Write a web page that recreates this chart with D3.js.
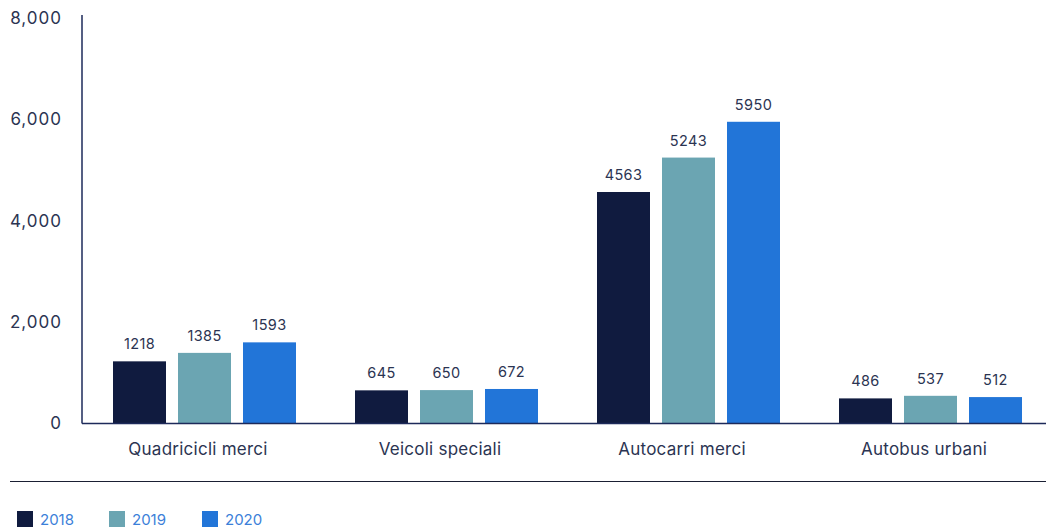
<!DOCTYPE html>
<html>
<head>
<meta charset="utf-8">
<script src="https://cdn.jsdelivr.net/npm/d3@7/dist/d3.min.js"></script>
<style>
  html, body { margin: 0; padding: 0; background: #ffffff; }
  svg { display: block; font-family: Inter, "Noto Sans", sans-serif; }
</style>
</head>
<body>
<svg id="chart" width="1046" height="529"></svg>
<script>
// Vehicle categories and yearly counts
const categories = ["Quadricicli merci", "Veicoli speciali", "Autocarri merci", "Autobus urbani"];
const years = ["2018", "2019", "2020"];
const values2018 = [1218, 645, 4563, 486];
const values2019 = [1385, 650, 5243, 537];
const values2020 = [1593, 672, 5950, 512];
const yTicks = [0, 2000, 4000, 6000, 8000];
const colors = ["#101b3f", "#6ba5b2", "#2275d8"];

const series = [values2018, values2019, values2020];
const rows = categories.map((c, i) => ({
  category: c,
  values: years.map((y, j) => ({ year: y, value: series[j][i], idx: j }))
}));

const svg = d3.select("#chart");
const axisX = 82;
const plotRight = 1051.5;
const baseY = 423;
const topY = 18;

const x0 = d3.scaleBand().domain(categories).range([83.5, plotRight]);
const y = d3.scaleLinear().domain([0, 8000]).range([baseY, topY]);
const color = d3.scaleOrdinal().domain(years).range(colors);

const textColor = "#2b3452";

// y tick labels
svg.append("g")
  .selectAll("text")
  .data(yTicks)
  .join("text")
  .attr("x", 62)
  .attr("y", d => y(d))
  .attr("dy", "0.36em")
  .attr("text-anchor", "end")
  .attr("font-size", 17)
  .attr("letter-spacing", 1)
  .attr("fill", textColor)
  .text(d => d3.format(",")(d));

// bars, grouped by category
const bw = 53;
const stepIn = 65;
const groupW = stepIn * 2 + bw;
const groups = svg.append("g")
  .selectAll("g")
  .data(rows)
  .join("g")
  .attr("transform", d => `translate(${x0(d.category) + (x0.bandwidth() - groupW) / 2},0)`);

groups.selectAll("rect")
  .data(d => d.values)
  .join("rect")
  .attr("x", d => d.idx * stepIn)
  .attr("width", bw)
  .attr("y", d => y(d.value))
  .attr("height", d => baseY - y(d.value))
  .attr("fill", d => color(d.year));

groups.selectAll("text")
  .data(d => d.values)
  .join("text")
  .attr("x", d => d.idx * stepIn + bw / 2)
  .attr("y", d => y(d.value) - 12)
  .attr("text-anchor", "middle")
  .attr("font-size", 14.5)
  .attr("letter-spacing", 0.4)
  .attr("fill", textColor)
  .text(d => d.value);

// category labels
svg.append("g")
  .selectAll("text")
  .data(categories)
  .join("text")
  .attr("x", d => x0(d) + x0.bandwidth() / 2 - 6.5)
  .attr("y", 455)
  .attr("text-anchor", "middle")
  .attr("font-size", 17)
  .attr("letter-spacing", 0.25)
  .attr("fill", textColor)
  .text(d => d);

// axis lines
svg.append("line")
  .attr("x1", axisX).attr("x2", axisX)
  .attr("y1", 15).attr("y2", baseY + 0.5)
  .attr("stroke", "#1d2a5a").attr("stroke-width", 1.5);
svg.append("line")
  .attr("x1", axisX).attr("x2", 1046)
  .attr("y1", baseY + 0.5).attr("y2", baseY + 0.5)
  .attr("stroke", "#1d2a5a").attr("stroke-width", 1.5);

// legend separator
svg.append("line")
  .attr("x1", 10).attr("x2", 1046)
  .attr("y1", 481.5).attr("y2", 481.5)
  .attr("stroke", "#1a1f33").attr("stroke-width", 1);

// legend
const legendX = [17, 109, 202];
const legend = svg.append("g")
  .selectAll("g")
  .data(years)
  .join("g")
  .attr("transform", (d, i) => `translate(${legendX[i]},511)`);
legend.append("rect")
  .attr("width", 16).attr("height", 16)
  .attr("fill", d => color(d));
legend.append("text")
  .attr("x", 23)
  .attr("y", 14)
  .attr("font-size", 15)
  .attr("fill", "#3c7fd9")
  .text(d => d);
</script>
</body>
</html>
